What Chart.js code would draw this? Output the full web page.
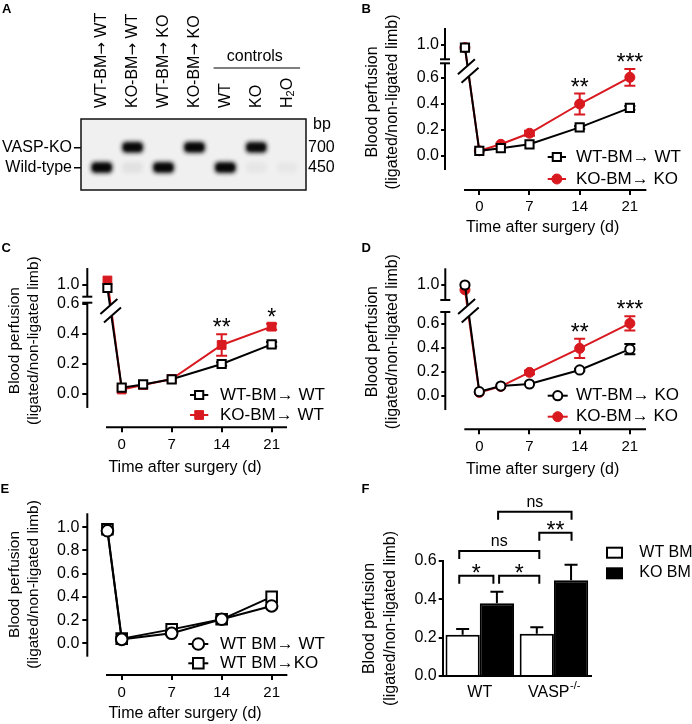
<!DOCTYPE html>
<html><head><meta charset="utf-8">
<script src="https://cdn.jsdelivr.net/npm/chart.js@4.4.1/dist/chart.umd.min.js"></script>
<style>
html,body{margin:0;padding:0;background:#fff;}
body{width:692px;height:724px;position:relative;overflow:hidden;}
canvas{position:absolute;display:block;}
</style></head><body>
<canvas id="cA" width="346" height="240" style="left:0;top:0"></canvas>
<canvas id="cB" width="346" height="240" style="left:346px;top:0"></canvas>
<canvas id="cC" width="346" height="240" style="left:0;top:240px"></canvas>
<canvas id="cD" width="346" height="240" style="left:346px;top:240px"></canvas>
<canvas id="cE" width="346" height="244" style="left:0;top:480px"></canvas>
<canvas id="cF" width="346" height="244" style="left:346px;top:480px"></canvas>
<script>
// ================= DATA =================
// Panel A: genotyping gel
const laneLabels = ['WT-BM\u2192 WT', 'KO-BM\u2192 WT', 'WT-BM\u2192 KO', 'KO-BM\u2192 KO', 'WT', 'KO', 'H\u2082O'];
const rowNames = ['Wild-type', 'VASP-KO'];
const rowSizes = ['450', '700'];
const band450 = [0.97, 0.06, 0.97, 0.0, 0.97, 0.04, 0.035];
const band700 = [0.0, 0.95, 0.0, 0.97, 0.0, 0.92, 0.0];

// Tick labels
const dayTicks = [0, 7, 14, 21];
const perfTicksBreak = [0.0, 0.2, 0.4, 0.6, 1.0];
const perfTicksE = [0.0, 0.2, 0.4, 0.6, 0.8, 1.0];
const perfTicksF = [0.0, 0.2, 0.4, 0.6];

// Panel B
const daysB = [-2, 0, 3, 7, 14, 21];
const wtToWtB = [0.98, 0.04, 0.06, 0.09, 0.22, 0.37];
const wtToWtBErr = [0, 0, 0, 0, 0.01, 0.015];
const koToKoB = [0.98, 0.04, 0.09, 0.175, 0.40, 0.605];
const koToKoBErr = [0, 0, 0, 0.02, 0.08, 0.065];
const starsB = ['', '', '', '', '**', '***'];

// Panel C
const daysC = [-2, 0, 3, 7, 14, 21];
const wtToWtC = [0.98, 0.042, 0.064, 0.098, 0.20, 0.331];
const wtToWtCErr = [0, 0, 0, 0, 0.012, 0.015];
const koToWtC = [1.03, 0.03, 0.06, 0.10, 0.327, 0.449];
const koToWtCErr = [0, 0, 0, 0, 0.072, 0.02];
const starsC = ['', '', '', '', '**', '*'];

// Panel D
const daysD = [-2, 0, 3, 7, 14, 21];
const wtToKoD = [1.0, 0.036, 0.083, 0.10, 0.217, 0.39];
const wtToKoDErr = [0, 0, 0, 0, 0.01, 0.043];
const koToKoD = [0.96, 0.03, 0.08, 0.197, 0.397, 0.605];
const koToKoDErr = [0, 0, 0, 0.015, 0.08, 0.06];
const starsD = ['', '', '', '', '**', '***'];

// Panel E
const daysE = [-2, 0, 7, 14, 21];
const wtToWtE = [0.97, 0.034, 0.086, 0.207, 0.322];
const wtToKoE = [0.983, 0.04, 0.12, 0.207, 0.40];

// Panel F
const fGroups = ['WT', 'VASP'];
const fGroupSup = ['', '-/-'];
const wtBmF = [0.215, 0.22];
const wtBmFErr = [0.03, 0.035];
const koBmF = [0.38, 0.50];
const koBmFErr = [0.06, 0.08];
const fBracketFrom = [[0, 0], [1, 0], [0, 0], [0, 1], [1, 0]]; // [dataset, group]
const fBracketTo = [[1, 0], [0, 1], [0, 1], [1, 1], [1, 1]];
const fBracketY = [0.523, 0.523, 0.652, 0.748, 0.857];
const fBracketText = ['*', '*', 'ns', '**', 'ns'];

// ================= STYLE / HELPERS =================
const FONT = "'Liberation Sans', Arial, Helvetica, sans-serif";
Chart.defaults.font.family = FONT;
Chart.defaults.color = '#000';
Chart.defaults.animation = false;
Chart.defaults.plugins.legend.display = false;
Chart.defaults.plugins.tooltip.enabled = false;
const RED = '#d8191f';
const BLACK = '#000';
const yTitleText = ['Blood perfusion', '(ligated/non-ligated limb)'];
const xTitleText = 'Time after surgery (d)';

function drawMarker(ctx, shape, r, x, y, fill, stroke, bw) {
  ctx.save();
  ctx.beginPath();
  if (shape === 'rect') { const s = r * Math.SQRT1_2; ctx.rect(x - s, y - s, 2 * s, 2 * s); }
  else ctx.arc(x, y, r, 0, Math.PI * 2);
  ctx.fillStyle = fill; ctx.fill();
  ctx.lineWidth = bw; ctx.strokeStyle = stroke; ctx.stroke();
  ctx.restore();
}
function letter(ctx, t, x, y) {
  ctx.save(); ctx.font = 'bold 13px ' + FONT; ctx.fillStyle = '#000';
  ctx.textAlign = 'left'; ctx.textBaseline = 'alphabetic'; ctx.fillText(t, x, y); ctx.restore();
}
function stars(ctx, t, x, yc, size) {
  ctx.save(); ctx.font = size + 'px ' + FONT; ctx.fillStyle = '#000';
  ctx.textAlign = 'center'; ctx.textBaseline = 'alphabetic';
  ctx.fillText(t, x, yc + 0.57 * size); ctx.restore();
}

// ================= PANEL A =================
(function () {
  const el = document.getElementById('cA');
  const W = el.width, H = el.height;
  const g = { left: 81, right: 306, top: 119, bottom: 190, lane1: 101.7, laneW: 30.9, row1: 167.5, rowH: 20.2 };
  const cache = {};
  function bandImg(v) {
    const k = v.toFixed(3);
    if (cache[k]) return cache[k];
    const c = document.createElement('canvas'); c.width = 40; c.height = 30;
    const x = c.getContext('2d');
    x.filter = 'blur(2px)';
    x.fillStyle = 'rgba(5,5,5,' + v + ')';
    x.beginPath();
    if (x.roundRect) x.roundRect(9.5, 9.5, 21, 11, 4); else x.rect(9.5, 9.5, 21, 11);
    x.fill();
    if (v > 0.5) {
      x.filter = 'blur(1.2px)';
      x.fillStyle = 'rgba(0,0,0,0.6)';
      x.beginPath();
      if (x.roundRect) x.roundRect(11, 11.5, 18, 7, 3); else x.rect(11, 11.5, 18, 7);
      x.fill();
    }
    cache[k] = c; return c;
  }
  const pts = [];
  laneLabels.forEach((l, i) => {
    if (band450[i] > 0) pts.push({ x: i + 1, y: 1, v: band450[i] });
    if (band700[i] > 0) pts.push({ x: i + 1, y: 2, v: band700[i] });
  });
  function laneText(ctx, lab) {
    // draw a rotated lane label; arrow drawn with a font that has a full-size glyph, subscript for H2O
    let x = 0;
    const parts = lab.split(/(\u2192|\u2082)/);
    parts.forEach(p => {
      if (!p) return;
      if (p === '\u2192') { ctx.font = '15px "DejaVu Sans", ' + FONT; ctx.fillText(p, x, 0.5); x += ctx.measureText(p).width; }
      else if (p === '\u2082') { ctx.font = '11px ' + FONT; ctx.fillText('2', x, 4); x += ctx.measureText('2').width; }
      else { ctx.font = '16px ' + FONT; ctx.fillText(p, x, 0); x += ctx.measureText(p).width; }
    });
  }
  const deco = {
    id: 'gel',
    beforeDatasetsDraw(chart) {
      const { ctx, chartArea: a } = chart;
      ctx.save(); ctx.fillStyle = '#f0f0f0'; ctx.fillRect(a.left, a.top, a.right - a.left, a.bottom - a.top); ctx.restore();
    },
    afterDatasetsDraw(chart) {
      const { ctx, chartArea: a } = chart;
      ctx.save(); ctx.strokeStyle = '#111'; ctx.lineWidth = 1.5;
      ctx.strokeRect(a.left, a.top, a.right - a.left, a.bottom - a.top); ctx.restore();
    },
    afterDraw(chart) {
      const { ctx } = chart;
      const xs = chart.scales.x;
      ctx.save();
      ctx.fillStyle = '#000';
      laneLabels.forEach((lab, i) => {
        const x = xs.getPixelForValue(i + 1);
        ctx.save(); ctx.translate(x, 108); ctx.rotate(-Math.PI / 2);
        ctx.textAlign = 'left'; ctx.textBaseline = 'middle';
        laneText(ctx, lab);
        ctx.restore();
      });
      // controls group line
      const x0 = xs.getPixelForValue(4.62), x1 = xs.getPixelForValue(7.42);
      ctx.strokeStyle = '#555'; ctx.lineWidth = 1.5;
      ctx.beginPath(); ctx.moveTo(x0, 68); ctx.lineTo(x1, 68); ctx.stroke();
      ctx.font = '16px ' + FONT; ctx.textAlign = 'center'; ctx.textBaseline = 'middle';
      ctx.fillText('controls', (x0 + x1) / 2 - 2, 57);
      ctx.textAlign = 'left';
      ctx.fillText('bp', 313, 125);
      ctx.restore();
      letter(ctx, 'A', 2, 12.5);
    }
  };
  new Chart(el, {
    type: 'scatter',
    data: { datasets: [{ data: pts, pointRadius: 3, pointStyle: c => (c.raw ? bandImg(c.raw.v) : 'circle'), clip: false }] },
    options: {
      responsive: false, events: [],
      layout: { padding: { left: 0, top: g.top, right: 2, bottom: H - g.bottom } },
      scales: {
        x: { type: 'linear', display: false, min: 1 - (g.lane1 - g.left) / g.laneW, max: 1 + (g.right - g.lane1) / g.laneW },
        y: {
          type: 'linear', position: 'left',
          min: 1 - (g.bottom - g.row1) / g.rowH, max: 1 + (g.row1 - g.top) / g.rowH,
          afterBuildTicks: s => { s.ticks = [{ value: 1 }, { value: 2 }]; },
          afterFit: s => { s.width = g.left; },
          ticks: { font: { size: 16 }, padding: 2, autoSkip: false, callback: (v, i) => rowNames[i] },
          grid: { display: true, drawOnChartArea: false, tickLength: 7, color: '#000', lineWidth: 1.5 },
          border: { display: false }
        },
        y2: {
          type: 'linear', position: 'right',
          min: 1 - (g.bottom - g.row1) / g.rowH, max: 1 + (g.row1 - g.top) / g.rowH,
          afterBuildTicks: s => { s.ticks = [{ value: 1 }, { value: 2 }]; },
          afterFit: s => { s.width = W - g.right - 2; },
          ticks: { font: { size: 16 }, padding: 2, autoSkip: false, callback: (v, i) => rowSizes[i] },
          grid: { display: false, drawTicks: false },
          border: { display: false }
        }
      }
    },
    plugins: [deco]
  });
})();

// ================= TIME-COURSE PANELS =================
function timeChart(id, cfg) {
  const el = document.getElementById(id);
  const W = el.width, H = el.height, g = cfg.geo, brk = cfg.brk;
  const disp = v => (brk && v > brk.split) ? v - brk.offset : v;
  const tickReal = cfg.yTicks, tickDisp = tickReal.map(disp);
  const L = g.yTitleX - g.yTitleLH / 2;
  const Bpad = H - g.xTitleY - 10;
  const datasets = cfg.series.map(s => ({
    label: s.label,
    data: cfg.days.map((d, i) => ({ x: d, y: disp(s.values[i]) })),
    borderColor: s.color, borderWidth: 2, backgroundColor: s.fill,
    pointStyle: s.shape, pointRadius: s.r, pointBorderWidth: s.bw,
    pointBackgroundColor: s.fill, pointBorderColor: s.color,
    fill: false, tension: 0, clip: false
  }));
  const deco = {
    id: 'deco' + id,
    beforeDatasetsDraw(chart) {
      const { ctx } = chart, xs = chart.scales.x, ys = chart.scales.y;
      cfg.series.forEach(s => {
        if (!s.err) return;
        ctx.save(); ctx.strokeStyle = s.color; ctx.lineWidth = 2;
        cfg.days.forEach((d, i) => {
          const e = s.err[i]; if (!e) return;
          const x = xs.getPixelForValue(d);
          const yt = ys.getPixelForValue(disp(s.values[i] + e)), yb = ys.getPixelForValue(disp(s.values[i] - e));
          ctx.beginPath();
          ctx.moveTo(x, yt); ctx.lineTo(x, yb);
          ctx.moveTo(x - 5.5, yt); ctx.lineTo(x + 5.5, yt);
          ctx.moveTo(x - 5.5, yb); ctx.lineTo(x + 5.5, yb);
          ctx.stroke();
        });
        ctx.restore();
      });
    },
    afterDatasetsDraw(chart) {
      if (!brk) return;
      const { ctx } = chart;
      const m = chart.getDatasetMeta(0).data;
      const p0 = m[0], p1 = m[1];
      const cy = brk.slashY;
      const cx = p0.x + (p1.x - p0.x) * (cy - p0.y) / (p1.y - p0.y);
      const hx = 8.5, hy = -7.5, sx = 1.8, sy = 4.3;
      const a1 = [cx - sx - hx, cy - sy - hy], b1 = [cx - sx + hx, cy - sy + hy];
      const a2 = [cx + sx - hx, cy + sy - hy], b2 = [cx + sx + hx, cy + sy + hy];
      ctx.save();
      ctx.fillStyle = '#fff';
      ctx.beginPath(); ctx.moveTo(a1[0], a1[1]); ctx.lineTo(b1[0], b1[1]); ctx.lineTo(b2[0], b2[1]); ctx.lineTo(a2[0], a2[1]); ctx.closePath(); ctx.fill();
      ctx.strokeStyle = '#000'; ctx.lineWidth = 2;
      ctx.beginPath(); ctx.moveTo(a1[0], a1[1]); ctx.lineTo(b1[0], b1[1]); ctx.moveTo(a2[0], a2[1]); ctx.lineTo(b2[0], b2[1]); ctx.stroke();
      ctx.restore();
    },
    afterDraw(chart) {
      const { ctx, chartArea: a } = chart, xs = chart.scales.x, ys = chart.scales.y;
      ctx.save(); ctx.strokeStyle = '#000'; ctx.lineWidth = 2; ctx.lineCap = 'butt';
      // y axis line (possibly broken)
      const segs = brk ? [brk.lower, brk.upper] : [cfg.yLine];
      segs.forEach(sg => {
        ctx.beginPath();
        ctx.moveTo(a.left, ys.getPixelForValue(disp(sg[0])));
        ctx.lineTo(a.left, ys.getPixelForValue(disp(sg[1])));
        ctx.stroke();
      });
      if (brk) {
        [brk.lower[1], brk.upper[0]].forEach(v => {
          const y = ys.getPixelForValue(disp(v));
          ctx.beginPath(); ctx.moveTo(a.left - 5, y); ctx.lineTo(a.left + 5, y); ctx.stroke();
        });
      }
      // x axis line
      ctx.beginPath();
      ctx.moveTo(xs.getPixelForValue(cfg.xLine[0]), a.bottom);
      ctx.lineTo(xs.getPixelForValue(cfg.xLine[1]), a.bottom);
      ctx.stroke();
      ctx.restore();
      // significance stars
      if (cfg.stars) {
        const s = cfg.series[cfg.starSeries];
        cfg.days.forEach((d, i) => {
          const t = cfg.stars[i]; if (!t) return;
          const top = ys.getPixelForValue(disp(s.values[i] + (s.err ? s.err[i] : 0)));
          stars(ctx, t, xs.getPixelForValue(d), top - 12, 23);
        });
      }
      // legend
      const lg = cfg.legend;
      cfg.series.forEach((s, k) => {
        const y = lg.rows[k];
        ctx.save(); ctx.strokeStyle = s.color; ctx.lineWidth = 2;
        ctx.beginPath(); ctx.moveTo(lg.line[0], y); ctx.lineTo(lg.line[1], y); ctx.stroke(); ctx.restore();
        drawMarker(ctx, s.shape, s.r, (lg.line[0] + lg.line[1]) / 2, y, s.fill, s.color, s.bw);
        ctx.save(); ctx.font = lg.font + 'px ' + FONT; ctx.fillStyle = '#000';
        ctx.textAlign = 'left'; ctx.textBaseline = 'middle'; ctx.fillText(s.label, lg.textX, y); ctx.restore();
      });
      letter(ctx, cfg.letter[0], cfg.letter[1], cfg.letter[2]);
    }
  };
  return new Chart(el, {
    type: 'line',
    data: { datasets },
    options: {
      responsive: false, events: [],
      layout: { padding: { left: L, top: g.top, right: W - g.right, bottom: Bpad } },
      scales: {
        x: {
          type: 'linear', min: -(g.x0 - g.left) / g.ppd, max: (g.right - g.x0) / g.ppd,
          afterBuildTicks: s => { s.ticks = dayTicks.map(v => ({ value: v })); },
          afterFit: s => { s.height = H - g.bottom - Bpad; },
          ticks: { font: { size: 15 }, padding: g.xTickPad, maxRotation: 0, autoSkip: false, callback: v => String(v) },
          grid: { display: true, drawOnChartArea: false, drawTicks: true, tickLength: 5, color: '#000', lineWidth: 2 },
          border: { display: false },
          title: { display: true, text: xTitleText, font: { size: 16, lineHeight: 1.25 }, padding: 0 }
        },
        y: {
          type: 'linear', min: -(g.bottom - g.y0) / g.ppu, max: (g.y0 - g.top) / g.ppu,
          afterBuildTicks: s => { s.ticks = tickDisp.map(v => ({ value: v })); },
          afterFit: s => { s.width = g.left - L; },
          ticks: { font: { size: 16 }, padding: g.yTickPad, autoSkip: false, callback: (v, i) => tickReal[i].toFixed(1) },
          grid: { display: true, drawOnChartArea: false, drawTicks: true, tickLength: g.yTickLen, color: '#000', lineWidth: 2 },
          border: { display: false },
          title: { display: true, text: yTitleText, font: { size: g.yTitleFont, lineHeight: g.yTitleLH / g.yTitleFont }, padding: 0 }
        }
      }
    },
    plugins: [deco]
  });
}

const sq = (label, values, err) => ({ label, values, err, color: BLACK, fill: '#fff', shape: 'rect', r: 5.8, bw: 2 });
const redDot = (label, values, err) => ({ label, values, err, color: RED, fill: RED, shape: 'circle', r: 5, bw: 1 });
const redSq = (label, values, err) => ({ label, values, err, color: RED, fill: RED, shape: 'rect', r: 6.2, bw: 1 });
const openDot = (label, values, err) => ({ label, values, err, color: BLACK, fill: '#fff', shape: 'circle', r: 4.6, bw: 2 });

timeChart('cB', {
  days: daysB, yTicks: perfTicksBreak,
  series: [sq('WT-BM\u2192 WT', wtToWtB, wtToWtBErr), redDot('KO-BM\u2192 KO', koToKoB, koToKoBErr)],
  stars: starsB, starSeries: 1,
  geo: { left: 99, x0: 133.3, ppd: 7.17, right: 294.4, top: 14, bottom: 190, y0: 156, ppu: 130,
         yTitleX: 26.7, yTitleLH: 20, yTitleFont: 16, xTitleY: 228, xTickPad: 3, yTickLen: 4, yTickPad: 2 },
  brk: { split: 0.8, offset: 0.146, upper: [0.89, 1.13], lower: [-0.108, 0.713], slashY: 71 },
  xLine: [-2.13, 23.3],
  legend: { line: [201.7, 220], textX: 230, rows: [157, 179], font: 17 },
  letter: ['B', 15.5, 12.5]
});

timeChart('cC', {
  days: daysC, yTicks: perfTicksBreak,
  series: [sq('WT-BM\u2192 WT', wtToWtC, wtToWtCErr), redSq('KO-BM\u2192 WT', koToWtC, koToWtCErr)],
  stars: starsC, starSeries: 1,
  geo: { left: 87.3, x0: 121.7, ppd: 7.14, right: 282.7, top: 14, bottom: 187.3, y0: 154, ppu: 150,
         yTitleX: 15, yTitleLH: 18.3, yTitleFont: 15.4, xTitleY: 227.7, xTickPad: 3.7, yTickLen: 5, yTickPad: 3 },
  brk: { split: 0.8, offset: 0.2733, upper: [0.922, 1.113], lower: [-0.093, 0.6087], slashY: 70.8 },
  xLine: [-2.2, 23.15],
  legend: { line: [190, 208.3], textX: 220, rows: [155, 175], font: 17 },
  letter: ['C', 1.5, 12]
});

timeChart('cD', {
  days: daysD, yTicks: perfTicksBreak,
  series: [openDot('WT-BM\u2192 KO', wtToKoD, wtToKoDErr), redDot('KO-BM\u2192 KO', koToKoD, koToKoDErr)],
  stars: starsD, starSeries: 1,
  geo: { left: 99.3, x0: 133.3, ppd: 7.17, right: 294.1, top: 14, bottom: 189.3, y0: 156, ppu: 120,
         yTitleX: 26.7, yTitleLH: 20, yTitleFont: 16, xTitleY: 229.3, xTickPad: 4, yTickLen: 4, yTickPad: 2 },
  brk: { split: 0.8, offset: 0.075, upper: [0.875, 1.139], lower: [-0.117, 0.70], slashY: 70.7 },
  xLine: [-2.09, 23.25],
  legend: { line: [201.7, 221.7], textX: 230, rows: [155.7, 176.7], font: 17 },
  letter: ['D', 15.5, 12]
});

timeChart('cE', {
  days: daysE, yTicks: perfTicksE,
  series: [
    { label: 'WT BM\u2192 WT', values: wtToWtE, color: BLACK, fill: '#fff', shape: 'circle', r: 5.8, bw: 2 },
    { label: 'WT BM\u2192KO', values: wtToKoE, color: BLACK, fill: '#fff', shape: 'rect', r: 7.5, bw: 2 }
  ],
  geo: { left: 87.3, x0: 121.7, ppd: 7.14, right: 282.7, top: 14, bottom: 195, y0: 163.3, ppu: 116,
         yTitleX: 15, yTitleLH: 18.3, yTitleFont: 15.4, xTitleY: 234, xTickPad: 4.3, yTickLen: 5, yTickPad: 3 },
  brk: null, yLine: [-0.1155, 1.121],
  xLine: [-2.2, 23.2],
  legend: { line: [188.3, 208.3], textX: 220, rows: [164, 183.3], font: 17 },
  letter: ['E', 0.5, 13]
});

// ================= PANEL F =================
(function () {
  const el = document.getElementById('cF');
  const W = el.width, H = el.height;
  const g = { left: 96.7, right: 245, top: 81, bottom: 196, yTitleX: 23.3, yTitleLH: 21.6 };
  const L = g.yTitleX - g.yTitleLH / 2;
  const nudge = [[-3.4, -3.5], [2.2, 2.5], [-3.4, 2.5], [2.5, 0.5], [1.2, 0.5]];
  const deco = {
    id: 'decoF',
    afterDatasetsDraw(chart) {
      const { ctx } = chart, ys = chart.scales.y;
      ctx.save(); ctx.strokeStyle = '#000'; ctx.lineWidth = 2;
      chart.data.datasets.forEach((ds, d) => {
        const meta = chart.getDatasetMeta(d);
        ds.data.forEach((v, i) => {
          const b = meta.data[i];
          const yt = ys.getPixelForValue(v + ds.err[i]);
          ctx.beginPath(); ctx.moveTo(b.x, b.y); ctx.lineTo(b.x, yt);
          ctx.moveTo(b.x - 6.5, yt); ctx.lineTo(b.x + 6.5, yt); ctx.stroke();
        });
      });
      ctx.restore();
    },
    afterDraw(chart) {
      const { ctx } = chart, xs = chart.scales.x, ys = chart.scales.y;
      // brackets
      fBracketY.forEach((yv, k) => {
        const pa = chart.getDatasetMeta(fBracketFrom[k][0]).data[fBracketFrom[k][1]];
        const pb = chart.getDatasetMeta(fBracketTo[k][0]).data[fBracketTo[k][1]];
        const xa = pa.x + nudge[k][0], xb = pb.x + nudge[k][1];
        const y = ys.getPixelForValue(yv);
        ctx.save(); ctx.strokeStyle = '#000'; ctx.lineWidth = 2;
        ctx.beginPath(); ctx.moveTo(xa, y + 8); ctx.lineTo(xa, y); ctx.lineTo(xb, y); ctx.lineTo(xb, y + 8); ctx.stroke();
        ctx.restore();
        const t = fBracketText[k], xm = (xa + xb) / 2;
        if (t === 'ns') {
          ctx.save(); ctx.font = '16px ' + FONT; ctx.fillStyle = '#000'; ctx.textAlign = 'center'; ctx.textBaseline = 'middle';
          ctx.fillText(t, xm, y - 9.5); ctx.restore();
        } else stars(ctx, t, xm, y - 8, 23);
      });
      // x labels with superscript
      ctx.save(); ctx.fillStyle = '#000'; ctx.textBaseline = 'middle'; ctx.textAlign = 'left';
      fGroups.forEach((lab, i) => {
        const x = xs.getPixelForValue(i);
        ctx.font = '16px ' + FONT; const w1 = ctx.measureText(lab).width;
        ctx.font = '11px ' + FONT; const w2 = fGroupSup[i] ? ctx.measureText(fGroupSup[i]).width : 0;
        const x0 = x - (w1 + w2) / 2;
        ctx.font = '16px ' + FONT; ctx.fillText(lab, x0, 212.7);
        if (w2) { ctx.font = '11px ' + FONT; ctx.fillText(fGroupSup[i], x0 + w1 + 0.5, 206); }
      });
      ctx.restore();
      // legend
      ctx.save(); ctx.lineWidth = 2; ctx.strokeStyle = '#000';
      chart.data.datasets.forEach((ds, d) => {
        const by = [66.7, 87.3][d];
        ctx.fillStyle = ds.backgroundColor; ctx.fillRect(261, by + 1, 15, 10); ctx.strokeRect(261, by + 1, 15, 10);
        ctx.fillStyle = '#000'; ctx.font = '16px ' + FONT; ctx.textAlign = 'left'; ctx.textBaseline = 'middle';
        ctx.fillText(ds.label, 293.3, by + 5.5);
      });
      ctx.restore();
      letter(ctx, 'F', 15.5, 13);
    }
  };
  new Chart(el, {
    type: 'bar',
    data: {
      labels: fGroups,
      datasets: [
        { label: 'WT BM', data: wtBmF, err: wtBmFErr, backgroundColor: '#fff', borderColor: '#000', borderWidth: 2, categoryPercentage: 0.924, barPercentage: 1.0 },
        { label: 'KO BM', data: koBmF, err: koBmFErr, backgroundColor: '#000', borderColor: '#000', borderWidth: 2, categoryPercentage: 0.924, barPercentage: 1.0 }
      ]
    },
    options: {
      responsive: false, events: [],
      layout: { padding: { left: L, top: g.top, right: W - g.right, bottom: 0 } },
      scales: {
        x: {
          ticks: { display: false },
          afterFit: s => { s.height = H - g.bottom; },
          grid: { display: false, drawTicks: false },
          border: { display: true, color: '#000', width: 2 }
        },
        y: {
          min: 0, max: 0.6,
          afterBuildTicks: s => { s.ticks = perfTicksF.map(v => ({ value: v })); },
          afterFit: s => { s.width = g.left - L; },
          ticks: { font: { size: 16 }, padding: 2, autoSkip: false, callback: (v, i) => perfTicksF[i].toFixed(1) },
          grid: { display: true, drawOnChartArea: false, drawTicks: true, tickLength: 4, color: '#000', lineWidth: 2 },
          border: { display: true, color: '#000', width: 2 },
          title: { display: true, text: yTitleText, font: { size: 16, lineHeight: g.yTitleLH / 16 }, padding: 0 }
        }
      }
    },
    plugins: [deco]
  });
})();
</script>
</body></html>
